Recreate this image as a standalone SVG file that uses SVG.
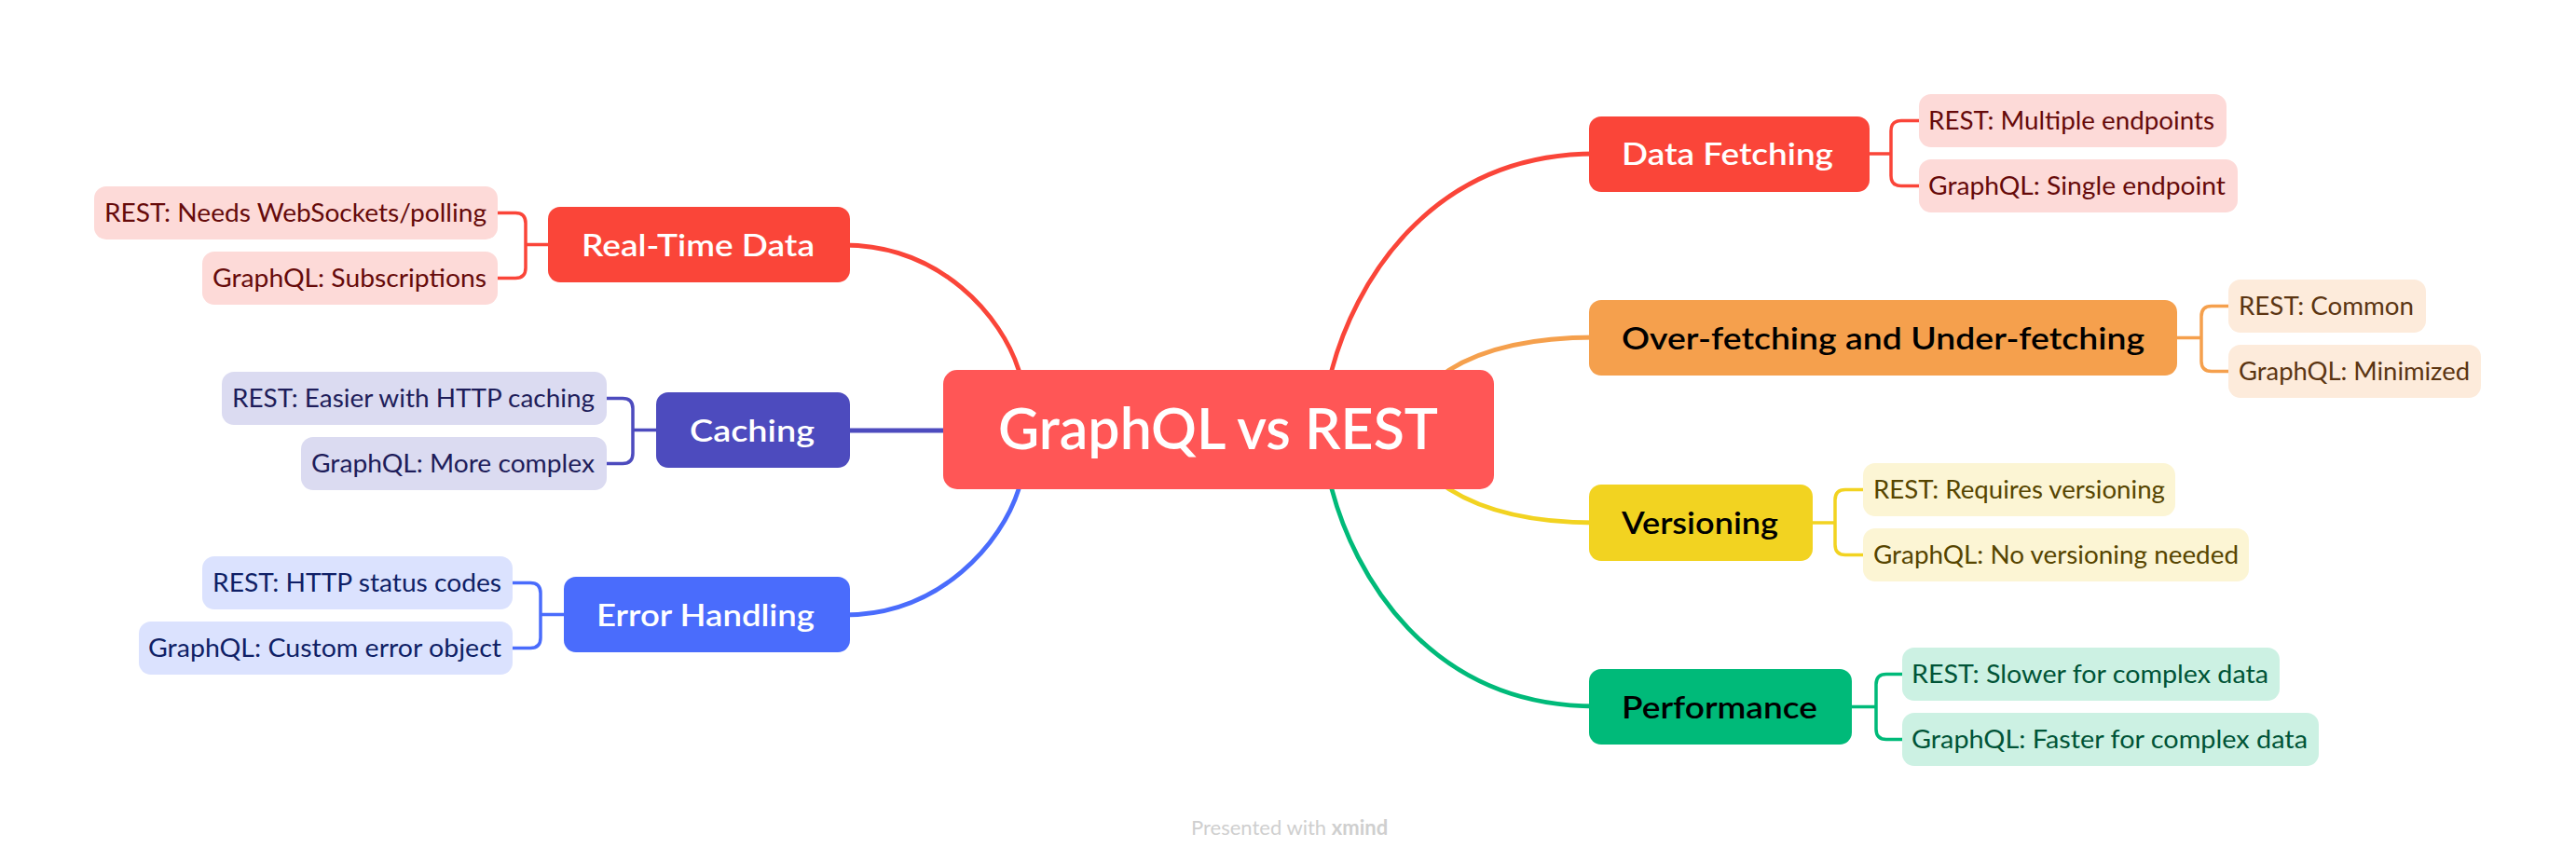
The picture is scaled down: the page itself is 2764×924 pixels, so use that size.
<svg xmlns="http://www.w3.org/2000/svg" width="2764" height="924" viewBox="0 0 2764 924">
<style>
text{font-family:Lato,"Liberation Sans","DejaVu Sans",sans-serif}
.central rect{fill:#FF5656}
.central text{fill:#FFFFFF;font-size:61px;font-weight:600}
.ptext{font-size:33px;font-weight:600}
.ctext{font-size:26px;font-weight:400}
.conn path{fill:none;stroke-width:4.8;stroke-linecap:round}
.br path{fill:none;stroke-width:3.5}
.red .p{fill:#FA4539}.red .c{fill:#FDDAD8}.red .ct{fill:#660A0A}.red .pt{fill:#FFFFFF}
.orange .p{fill:#F5A04D}.orange .c{fill:#FDEBDB}.orange .ct{fill:#5B3512}.orange .pt{fill:#000000}
.yellow .p{fill:#F2D321}.yellow .c{fill:#FCF5D4}.yellow .ct{fill:#574500}.yellow .pt{fill:#000000}
.green .p{fill:#00BA79}.green .c{fill:#CCF1E3}.green .ct{fill:#005437}.green .pt{fill:#000000}
.indigo .p{fill:#4D4BBE}.indigo .c{fill:#DBDBF1}.indigo .ct{fill:#1E1D5A}.indigo .pt{fill:#FFFFFF}
.blue .p{fill:#4A6CFC}.blue .c{fill:#DBE2FE}.blue .ct{fill:#0F1F66}.blue .pt{fill:#FFFFFF}
.sred{stroke:#FA4539}.sorange{stroke:#F5A04D}.syellow{stroke:#F2D321}.sgreen{stroke:#00BA79}.sindigo{stroke:#4D4BBE}.sblue{stroke:#4A6CFC}
</style>
<rect width="2764" height="924" fill="#FFFFFF"/>
<g id="connectors">
  <g class="conn">
    <path class="sred" d="M1426,412 L1429,397 C1452,310 1530,165 1712,165"/>
    <path class="sorange" d="M1540,408 L1555,397 C1590,375 1640,362 1712,362"/>
    <path class="syellow" d="M1540,514 L1555,525 C1590,547 1640,561 1712,561"/>
    <path class="sgreen" d="M1426,510 L1429,525 C1452,612 1530,758 1712,758"/>
    <path class="sred" d="M1096,410 L1093,397 C1075,340 1010,263 905,263"/>
    <path class="sindigo" d="M905,462 H1020"/>
    <path class="sblue" d="M1096,512 L1093,525 C1075,582 1010,660 905,660"/>
  </g>
  <g class="br">
    <path class="sred" d="M2000,165 H2029 M2062,129.5 H2040 Q2029,129.5 2029,140.5 V188.5 Q2029,199.5 2040,199.5 H2062"/>
    <path class="sorange" d="M2330,362.5 H2362 M2394,328.5 H2373 Q2362,328.5 2362,339.5 V387.5 Q2362,398.5 2373,398.5 H2394"/>
    <path class="syellow" d="M1940,561 H1969 M2002,525.5 H1980 Q1969,525.5 1969,536.5 V584.5 Q1969,595.5 1980,595.5 H2002"/>
    <path class="sgreen" d="M1980,758.5 H2013 M2044,723.5 H2024 Q2013,723.5 2013,734.5 V782.5 Q2013,793.5 2024,793.5 H2044"/>
    <path class="sred" d="M594,262.5 H564 M531,228.5 H553 Q564,228.5 564,239.5 V287.5 Q564,298.5 553,298.5 H531"/>
    <path class="sindigo" d="M710,461.5 H679 M648,427.5 H668 Q679,427.5 679,438.5 V486.5 Q679,497.5 668,497.5 H648"/>
    <path class="sblue" d="M611,659.5 H580 M547,625.5 H569 Q580,625.5 580,636.5 V684.5 Q580,695.5 569,695.5 H547"/>
  </g>
</g>

<g id="central" class="central">
  <rect x="1012" y="397" width="591" height="128" rx="15"/>
  <text x="1071" y="482" textLength="472" lengthAdjust="spacingAndGlyphs">GraphQL vs REST</text>
</g>

<g id="data-fetching" class="red">
  <rect class="p" x="1705" y="125" width="301" height="81" rx="13"/>
  <text class="pt ptext" x="1740" y="177" textLength="227" lengthAdjust="spacingAndGlyphs">Data Fetching</text>
</g>
<g id="df-rest" class="red">
  <rect class="c" x="2059" y="101" width="330" height="57" rx="13"/>
  <text class="ct ctext" x="2069" y="139" textLength="307" lengthAdjust="spacingAndGlyphs">REST: Multiple endpoints</text>
</g>
<g id="df-graphql" class="red">
  <rect class="c" x="2059" y="171" width="342" height="57" rx="13"/>
  <text class="ct ctext" x="2069" y="209" textLength="319" lengthAdjust="spacingAndGlyphs">GraphQL: Single endpoint</text>
</g>

<g id="over-fetching" class="orange">
  <rect class="p" x="1705" y="322" width="631" height="81" rx="13"/>
  <text class="pt ptext" x="1740" y="374.5" textLength="561" lengthAdjust="spacingAndGlyphs">Over-fetching and Under-fetching</text>
</g>
<g id="of-rest" class="orange">
  <rect class="c" x="2391" y="300" width="212" height="57" rx="13"/>
  <text class="ct ctext" x="2402" y="338" textLength="188" lengthAdjust="spacingAndGlyphs">REST: Common</text>
</g>
<g id="of-graphql" class="orange">
  <rect class="c" x="2391" y="370" width="271" height="57" rx="13"/>
  <text class="ct ctext" x="2402" y="408" textLength="248" lengthAdjust="spacingAndGlyphs">GraphQL: Minimized</text>
</g>

<g id="versioning" class="yellow">
  <rect class="p" x="1705" y="520" width="240" height="82" rx="13"/>
  <text class="pt ptext" x="1740" y="573" textLength="168" lengthAdjust="spacingAndGlyphs">Versioning</text>
</g>
<g id="v-rest" class="yellow">
  <rect class="c" x="1999" y="497" width="335" height="57" rx="13"/>
  <text class="ct ctext" x="2010" y="535" textLength="313" lengthAdjust="spacingAndGlyphs">REST: Requires versioning</text>
</g>
<g id="v-graphql" class="yellow">
  <rect class="c" x="1999" y="567" width="414" height="57" rx="13"/>
  <text class="ct ctext" x="2010" y="605" textLength="392" lengthAdjust="spacingAndGlyphs">GraphQL: No versioning needed</text>
</g>

<g id="performance" class="green">
  <rect class="p" x="1705" y="718" width="282" height="81" rx="13"/>
  <text class="pt ptext" x="1740" y="770.5" textLength="210" lengthAdjust="spacingAndGlyphs">Performance</text>
</g>
<g id="p-rest" class="green">
  <rect class="c" x="2041" y="695" width="405" height="57" rx="13"/>
  <text class="ct ctext" x="2051" y="733" textLength="383" lengthAdjust="spacingAndGlyphs">REST: Slower for complex data</text>
</g>
<g id="p-graphql" class="green">
  <rect class="c" x="2041" y="765" width="447" height="57" rx="13"/>
  <text class="ct ctext" x="2051" y="803" textLength="425" lengthAdjust="spacingAndGlyphs">GraphQL: Faster for complex data</text>
</g>

<g id="real-time" class="red">
  <rect class="p" x="588" y="222" width="324" height="81" rx="13"/>
  <text class="pt ptext" x="624" y="274.5" textLength="250" lengthAdjust="spacingAndGlyphs">Real-Time Data</text>
</g>
<g id="rt-rest" class="red">
  <rect class="c" x="101" y="200" width="433" height="57" rx="13"/>
  <text class="ct ctext" x="112" y="238" textLength="410" lengthAdjust="spacingAndGlyphs">REST: Needs WebSockets/polling</text>
</g>
<g id="rt-graphql" class="red">
  <rect class="c" x="217" y="270" width="317" height="57" rx="13"/>
  <text class="ct ctext" x="228" y="308" textLength="294" lengthAdjust="spacingAndGlyphs">GraphQL: Subscriptions</text>
</g>

<g id="caching" class="indigo">
  <rect class="p" x="704" y="421" width="208" height="81" rx="13"/>
  <text class="pt ptext" x="740" y="473.5" textLength="134" lengthAdjust="spacingAndGlyphs">Caching</text>
</g>
<g id="c-rest" class="indigo">
  <rect class="c" x="238" y="399" width="413" height="57" rx="13"/>
  <text class="ct ctext" x="249" y="437" textLength="389" lengthAdjust="spacingAndGlyphs">REST: Easier with HTTP caching</text>
</g>
<g id="c-graphql" class="indigo">
  <rect class="c" x="323" y="469" width="328" height="57" rx="13"/>
  <text class="ct ctext" x="334" y="507" textLength="304" lengthAdjust="spacingAndGlyphs">GraphQL: More complex</text>
</g>

<g id="error-handling" class="blue">
  <rect class="p" x="605" y="619" width="307" height="81" rx="13"/>
  <text class="pt ptext" x="640" y="671.5" textLength="234" lengthAdjust="spacingAndGlyphs">Error Handling</text>
</g>
<g id="e-rest" class="blue">
  <rect class="c" x="217" y="597" width="333" height="57" rx="13"/>
  <text class="ct ctext" x="228" y="635" textLength="310" lengthAdjust="spacingAndGlyphs">REST: HTTP status codes</text>
</g>
<g id="e-graphql" class="blue">
  <rect class="c" x="149" y="667" width="401" height="57" rx="13"/>
  <text class="ct ctext" x="159" y="705" textLength="379" lengthAdjust="spacingAndGlyphs">GraphQL: Custom error object</text>
</g>

<text x="1278" y="896" font-size="22" fill="#CFCFCF">Presented with <tspan font-weight="700">xmind</tspan></text>
</svg>
